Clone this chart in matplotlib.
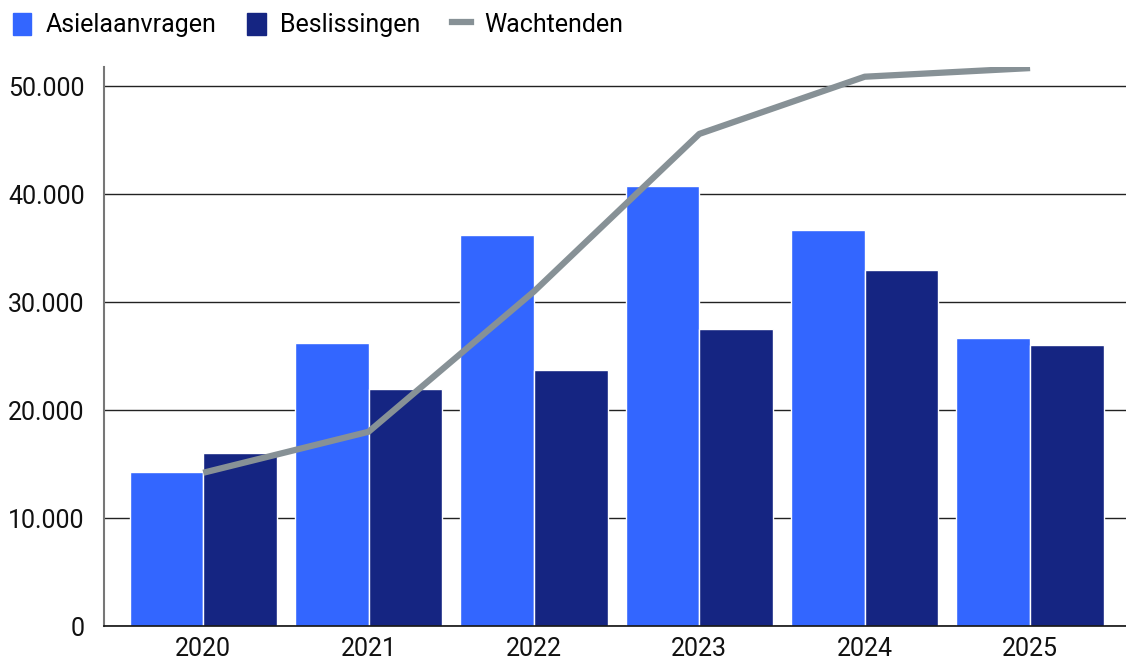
import numpy as np
import matplotlib.pyplot as plt
from matplotlib.patches import Patch
from matplotlib.lines import Line2D

plt.rcParams['font.family'] = ['Roboto', 'DejaVu Sans']

jaren = ['2020', '2021', '2022', '2023', '2024', '2025']
asielaanvragen = [14300, 26200, 36200, 40800, 36700, 26700]
beslissingen = [16000, 22000, 23700, 27500, 33000, 26000]
wachtenden = [14200, 18000, 31000, 45600, 50900, 51700]

kleur_asiel = '#3366ff'
kleur_besl = '#152582'
kleur_wacht = '#879196'

fig = plt.figure(figsize=(11.26, 6.62), dpi=100)
ax = fig.add_axes([104/1126, 36/662, 1 - 104/1126, (626-67)/662])

x = np.arange(len(jaren))
w = 0.445
ax.bar(x - w/2, asielaanvragen, w, color=kleur_asiel, edgecolor='white', linewidth=1, zorder=2)
ax.bar(x + w/2, beslissingen, w, color=kleur_besl, edgecolor='white', linewidth=1, zorder=2)
ax.plot(x, wachtenden, color=kleur_wacht, linewidth=4.5, solid_capstyle='butt', zorder=3)

ax.set_xlim(-0.6, 5.58)
ax.set_ylim(0, 51800)
ax.set_yticks([0, 10000, 20000, 30000, 40000, 50000])
ax.set_yticklabels(['0', '10.000', '20.000', '30.000', '40.000', '50.000'])
ax.set_xticks(x)
ax.set_xticklabels(jaren)
ax.grid(axis='y', color='#222222', linewidth=1, zorder=1)
ax.tick_params(axis='both', length=0, labelsize=18, colors='#111111', pad=14)
ax.tick_params(axis='x', pad=8)
for s in ['top', 'right']:
    ax.spines[s].set_visible(False)
ax.spines['left'].set_color('#777777')
ax.spines['left'].set_linewidth(1.5)
ax.spines['bottom'].set_color('#111111')
ax.spines['bottom'].set_linewidth(1.2)

handles = [Patch(color=kleur_asiel), Patch(color=kleur_besl),
           Line2D([0], [0], color=kleur_wacht, linewidth=4.5)]
fig.legend(handles, ['Asielaanvragen', 'Beslissingen', 'Wachtenden'],
           loc='upper left', bbox_to_anchor=(0.0, 1.0), ncol=3, frameon=False,
           fontsize=18, handlelength=0.75, handleheight=1.0, handletextpad=0.56,
           columnspacing=1.25, borderaxespad=0.1, borderpad=0.4)

fig.savefig('out.png', dpi=100)
